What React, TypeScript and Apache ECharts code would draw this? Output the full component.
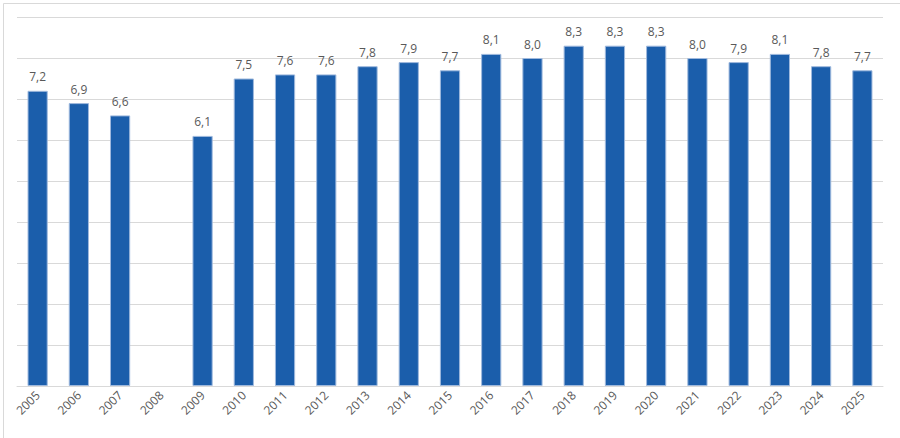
import { useEffect, useRef } from "react";
import * as echarts from "echarts";

const years = [
  "2005", "2006", "2007", "2008", "2009", "2010", "2011", "2012", "2013", "2014", "2015",
  "2016", "2017", "2018", "2019", "2020", "2021", "2022", "2023", "2024", "2025",
];

const values: (number | null)[] = [
  7.2, 6.9, 6.6, null, 6.1, 7.5, 7.6, 7.6, 7.8, 7.9, 7.7,
  8.1, 8.0, 8.3, 8.3, 8.3, 8.0, 7.9, 8.1, 7.8, 7.7,
];

const yMin = 0;
const yMax = 9;
const yStep = 1;

export default function App() {
  const chartRef = useRef<HTMLDivElement>(null);

  useEffect(() => {
    document.body.style.margin = "0";
    if (!chartRef.current) return;
    const chart = echarts.init(chartRef.current, undefined, { renderer: "svg" });

    chart.setOption({
      animation: false,
      backgroundColor: "#ffffff",
      textStyle: { fontFamily: "Open Sans" },
      graphic: [
        {
          type: "rect",
          left: 1,
          top: 1,
          shape: { width: 897, height: 435 },
          style: { fill: "none", stroke: "#d9d9d9", lineWidth: 1 },
          silent: true,
        },
      ],
      grid: { left: 17, right: 17, top: 17, bottom: 52 },
      xAxis: {
        type: "category",
        data: years,
        axisLine: { lineStyle: { color: "#d9d9d9" } },
        axisTick: { show: false },
        axisLabel: {
          rotate: 45,
          color: "#595959",
          fontSize: 12,
          margin: 7,
          interval: 0,
        },
      },
      yAxis: {
        type: "value",
        min: yMin,
        max: yMax,
        interval: yStep,
        axisLine: { show: false },
        axisTick: { show: false },
        axisLabel: { show: false },
        splitLine: { lineStyle: { color: "#d9d9d9" } },
      },
      series: [
        {
          type: "bar",
          data: values,
          barWidth: "49%",
          itemStyle: { color: "#1b5eab", borderColor: "#9fb9dd", borderWidth: 1 },
          label: {
            show: true,
            position: "top",
            distance: 8,
            color: "#595959",
            fontSize: 12,
            formatter: (p: any) => Number(p.value).toFixed(1).replace(".", ","),
          },
        },
      ],
    });

    return () => chart.dispose();
  }, []);

  return <div ref={chartRef} style={{ width: 900, height: 438 }} />;
}
